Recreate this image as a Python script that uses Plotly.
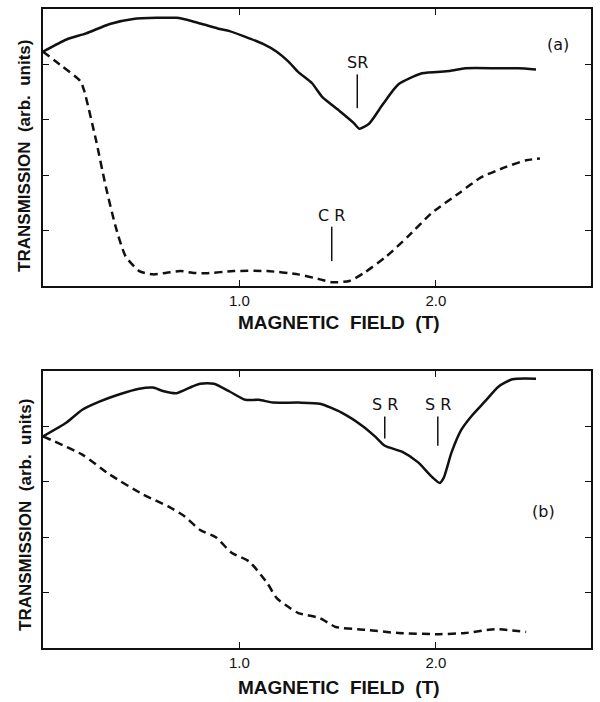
import plotly.graph_objects as go
from plotly.subplots import make_subplots

# Panel (a): transmission vs. magnetic field
a_solid_x = [0.00, 0.12, 0.22, 0.34, 0.46, 0.58, 0.68, 0.76, 0.83, 0.90, 0.95, 1.05, 1.12, 1.19, 1.25, 1.30,
             1.37, 1.42, 1.51, 1.58, 1.61, 1.66, 1.73, 1.81, 1.93, 2.07, 2.15, 2.32, 2.42, 2.51]
a_solid_y = [4.23, 4.45, 4.56, 4.73, 4.82, 4.84, 4.84, 4.78, 4.71, 4.64, 4.60, 4.47, 4.37, 4.23, 4.05, 3.86,
             3.66, 3.42, 3.16, 2.95, 2.84, 2.93, 3.28, 3.64, 3.84, 3.88, 3.93, 3.93, 3.93, 3.91]
a_dash_x = [0.00, 0.10, 0.19, 0.21, 0.27, 0.32, 0.37, 0.42, 0.49, 0.56, 0.63, 0.70, 0.76, 0.83, 0.97, 1.14,
            1.30, 1.41, 1.47, 1.56, 1.64, 1.75, 1.86, 1.98, 2.12, 2.23, 2.35, 2.46, 2.53]
a_dash_y = [4.23, 3.96, 3.70, 3.52, 2.63, 1.79, 1.07, 0.54, 0.27, 0.21, 0.24, 0.27, 0.24, 0.23, 0.27, 0.27,
            0.21, 0.12, 0.07, 0.09, 0.25, 0.54, 0.90, 1.32, 1.68, 1.96, 2.14, 2.27, 2.30]

# Panel (b)
b_solid_x = [0.00, 0.12, 0.20, 0.29, 0.39, 0.49, 0.56, 0.61, 0.68, 0.76, 0.80, 0.87, 0.95, 1.03, 1.10, 1.17,
             1.30, 1.41, 1.52, 1.63, 1.69, 1.74, 1.83, 1.91, 1.98, 2.02, 2.04, 2.08, 2.13, 2.18, 2.25, 2.32,
             2.39, 2.51]
b_solid_y = [3.82, 4.07, 4.30, 4.45, 4.58, 4.68, 4.70, 4.64, 4.60, 4.72, 4.77, 4.77, 4.63, 4.48, 4.48, 4.43,
             4.43, 4.41, 4.25, 4.00, 3.82, 3.65, 3.54, 3.35, 3.09, 2.98, 3.07, 3.53, 3.94, 4.18, 4.45, 4.72,
             4.85, 4.86]
b_dash_x = [0.00, 0.20, 0.34, 0.51, 0.64, 0.72, 0.80, 0.88, 0.96, 1.05, 1.14, 1.19, 1.25, 1.30, 1.41, 1.49,
            1.64, 1.81, 2.02, 2.15, 2.30, 2.46]
b_dash_y = [3.82, 3.49, 3.13, 2.77, 2.55, 2.38, 2.13, 2.00, 1.72, 1.56, 1.18, 0.90, 0.74, 0.63, 0.54, 0.38,
            0.33, 0.27, 0.25, 0.27, 0.34, 0.29]

# Resonance markers: (label, field, line bottom, line top)
a_marks = [("SR", 1.60, 3.21, 3.82), ("C R", 1.47, 0.45, 1.07)]
b_marks = [("S R", 1.74, 3.78, 4.18), ("S R", 2.01, 3.65, 4.18)]

x_ticks = [1.0, 2.0]
x_tick_labels = ["1.0", "2.0"]
y_ticks = [1, 2, 3, 4]

fig = make_subplots(rows=2, cols=1, vertical_spacing=0.133)

black = "#111111"
curve_w = 2.5
label_font = dict(family="DejaVu Sans", size=16, color=black)

for row, sx, sy, dx, dy, marks in [(1, a_solid_x, a_solid_y, a_dash_x, a_dash_y, a_marks),
                                   (2, b_solid_x, b_solid_y, b_dash_x, b_dash_y, b_marks)]:
    fig.add_trace(go.Scatter(x=sx, y=sy, mode="lines", line=dict(color=black, width=curve_w, shape="spline",
                                                                   smoothing=0.6)), row=row, col=1)
    fig.add_trace(go.Scatter(x=dx, y=dy, mode="lines", line=dict(color=black, width=curve_w, dash="8px,5px",
                                                                   shape="spline", smoothing=0.6)), row=row, col=1)
    for label, xm, y0, y1 in marks:
        fig.add_trace(go.Scatter(x=[xm, xm], y=[y0, y1], mode="lines",
                                 line=dict(color=black, width=1.5)), row=row, col=1)
        fig.add_annotation(x=xm, y=y1, text=label, showarrow=False, yanchor="bottom", yshift=0,
                           font=label_font, row=row, col=1)

fig.add_annotation(x=2.62, y=4.36, text="(a)", showarrow=False, font=label_font, row=1, col=1)
fig.add_annotation(x=2.55, y=2.46, text="(b)", showarrow=False, font=label_font, row=2, col=1)

axis_common = dict(showgrid=False, zeroline=False, showline=True, linecolor=black, linewidth=1.5,
                   mirror="ticks", ticks="inside", ticklen=6, tickwidth=1.3, tickcolor=black)

for row in (1, 2):
    fig.update_xaxes(range=[0, 2.79], tickvals=x_ticks, ticktext=x_tick_labels,
                     tickfont=dict(family="Liberation Sans", size=15, color=black),
                     row=row, col=1, **axis_common)
    fig.update_yaxes(range=[0, 5], tickvals=y_ticks, showticklabels=False, row=row, col=1, **axis_common)

# Axis titles
title_font = dict(family="Liberation Sans", size=19, color=black)
for yc in (0.509, -0.0625):
    fig.add_annotation(xref="paper", yref="paper", x=0.54, y=yc, xanchor="center", yanchor="middle",
                       text="<b>MAGNETIC  FIELD  (T)</b>", showarrow=False, font=title_font)
for yc in (0.770, 0.208):
    fig.add_annotation(xref="paper", yref="paper", x=-0.033, y=yc, xanchor="center", yanchor="middle",
                       text="<b>TRANSMISSION  (arb.  units)</b>", showarrow=False, textangle=-90,
                       font=dict(family="Liberation Sans", size=17, color=black))

fig.update_layout(width=600, height=702, margin=dict(l=43, r=7, t=8, b=54),
                  paper_bgcolor="white", plot_bgcolor="white", showlegend=False)

fig.write_html("out.html")
